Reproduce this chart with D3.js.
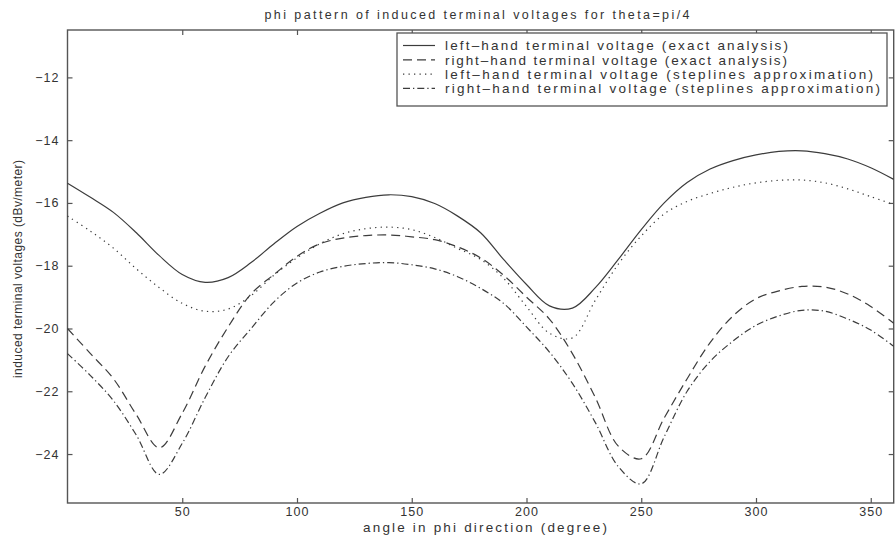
<!DOCTYPE html>
<meta charset="utf-8">
<head>
    <title>phi pattern of induced terminal voltages</title>
</head>
<script src="https://d3js.org/d3.v7.min.js"></script>

<style>
    body { margin: 0; background: #fff; }
    text {
        font-family: "Liberation Sans", Arial, sans-serif;
        fill: #333;
    }
    .frame {
        stroke: #555;
        stroke-width: 1.4px;
        fill: none;
    }
    .axis path { stroke: none; }
    .axis line { stroke: #555; stroke-width: 1.2px; }
    .axis text { font-size: 12.5px; letter-spacing: 1px; fill: #333; }
    .curve {
        fill: none;
        stroke: #3c3c3c;
        stroke-width: 1.2px;
    }
</style>
<div id="viz"></div>
<script>

// angle in phi direction (degree), sampled every 10 degrees
var angles = [0,10,20,30,40,50,60,70,80,90,100,110,120,130,140,150,160,170,180,
              190,200,210,220,230,240,250,260,270,280,290,300,310,320,330,340,350,360];

// left-hand terminal voltage (exact analysis)
var leftExact = [-15.37,-15.82,-16.3,-16.95,-17.68,-18.28,-18.53,-18.38,-17.9,-17.3,
                 -16.75,-16.33,-16.0,-15.82,-15.74,-15.8,-16.02,-16.42,-16.95,
                 -17.8,-18.6,-19.28,-19.35,-18.7,-17.8,-16.85,-16.0,-15.35,-14.92,
                 -14.65,-14.47,-14.36,-14.34,-14.43,-14.6,-14.88,-15.25];

// right-hand terminal voltage (exact analysis)
var rightExact = [-20.0,-20.8,-21.6,-22.75,-23.8,-22.7,-21.2,-19.95,-18.9,-18.28,
                  -17.7,-17.3,-17.12,-17.04,-17.02,-17.08,-17.17,-17.4,-17.75,
                  -18.3,-19.0,-19.7,-20.8,-22.2,-23.75,-24.15,-22.85,-21.6,-20.45,
                  -19.6,-19.05,-18.8,-18.66,-18.68,-18.9,-19.3,-19.83];

// left-hand terminal voltage (steplines approximation)
var leftStep = [-16.42,-16.9,-17.44,-18.1,-18.7,-19.2,-19.45,-19.38,-18.95,-18.3,
                -17.75,-17.3,-16.98,-16.82,-16.77,-16.85,-17.1,-17.45,-17.8,
                -18.4,-19.3,-20.15,-20.3,-19.1,-17.95,-17.05,-16.35,-15.95,-15.7,
                -15.5,-15.36,-15.28,-15.27,-15.36,-15.55,-15.8,-16.05];

// right-hand terminal voltage (steplines approximation)
var rightStep = [-20.8,-21.5,-22.3,-23.4,-24.65,-23.66,-22.2,-20.9,-20.0,-19.15,
                 -18.55,-18.2,-18.02,-17.93,-17.9,-17.97,-18.1,-18.35,-18.72,
                 -19.2,-19.95,-20.75,-21.75,-23.0,-24.4,-24.95,-23.45,-22.0,-21.05,
                 -20.4,-19.9,-19.6,-19.42,-19.45,-19.7,-20.05,-20.57];

var seriesNames = ['left\u2013hand terminal voltage (exact analysis)',
                   'right\u2013hand terminal voltage (exact analysis)',
                   'left\u2013hand terminal voltage (steplines approximation)',
                   'right\u2013hand terminal voltage (steplines approximation)'];
var seriesValues = [leftExact, rightExact, leftStep, rightStep];
var seriesDash = ['none', '9,5', '1.3,4.2', '7,3,1.3,3'];

var xTicks = [50,100,150,200,250,300,350];
var yTicks = [-24,-22,-20,-18,-16,-14,-12];

var W = 895, H = 540;
var plot = {left: 67.5, right: 893.7, top: 30, bottom: 503};

var root = d3.select('#viz')
    .append('svg')
        .attr('width', W)
        .attr('height', H);

root.append('rect')
    .attr('width', W).attr('height', H)
    .attr('fill', '#fff');

var x = d3.scaleLinear()
    .domain([0, 360])
    .range([plot.left, plot.right]);

var y = d3.scaleLinear()
    .domain([-25.56, -10.49])
    .range([plot.bottom, plot.top]);

// frame
root.append('rect')
    .attr('class', 'frame')
    .attr('x', plot.left)
    .attr('y', plot.top)
    .attr('width', plot.right - plot.left)
    .attr('height', plot.bottom - plot.top);

// axes, matlab style inward ticks
root.append('g')
    .attr('class', 'axis')
    .attr('transform', 'translate(0,' + plot.bottom + ')')
    .call(d3.axisBottom(x).tickValues(xTicks).tickSizeInner(-5).tickSizeOuter(0).tickPadding(4));

root.append('g')
    .attr('class', 'axis')
    .attr('transform', 'translate(0,' + plot.top + ')')
    .call(d3.axisTop(x).tickValues(xTicks).tickSizeInner(-5).tickSizeOuter(0).tickFormat(''));

root.append('g')
    .attr('class', 'axis')
    .attr('transform', 'translate(' + plot.left + ',0)')
    .call(d3.axisLeft(y).tickValues(yTicks).tickSizeInner(-5).tickSizeOuter(0).tickPadding(8));

root.append('g')
    .attr('class', 'axis')
    .attr('transform', 'translate(' + plot.right + ',0)')
    .call(d3.axisRight(y).tickValues(yTicks).tickSizeInner(-5).tickSizeOuter(0).tickFormat(''));

// curves
var line = d3.line()
    .x(function(d, i) { return x(angles[i]); })
    .y(function(d) { return y(d); })
    .curve(d3.curveCatmullRom.alpha(0.5));

root.append('g')
    .selectAll('path')
    .data(seriesValues)
    .enter()
    .append('path')
    .attr('class', 'curve')
    .attr('stroke-dasharray', function(d, i) { return seriesDash[i]; })
    .attr('d', line);

// legend
var legend = root.append('g')
    .attr('transform', 'translate(397,33)');

legend.append('rect')
    .attr('width', 490)
    .attr('height', 73)
    .attr('fill', '#fff')
    .attr('stroke', '#555')
    .attr('stroke-width', 1.3);

var legendLen = [343, 342, 428, 435];
var rows = legend.selectAll('g.row')
    .data(seriesNames)
    .enter()
    .append('g')
    .attr('class', 'row')
    .attr('transform', function(d, i) { return 'translate(0,' + (12.5 + i * 14.3) + ')'; });

rows.append('line')
    .attr('class', 'curve')
    .attr('x1', 6).attr('x2', 38)
    .attr('y1', 0).attr('y2', 0)
    .attr('stroke-dasharray', function(d, i) { return seriesDash[i]; });

rows.append('text')
    .attr('x', 48)
    .attr('dy', '0.35em')
    .attr('textLength', function(d, i) { return legendLen[i]; })
    .attr('lengthAdjust', 'spacing')
    .style('font-size', '13.5px')
    .text(function(d) { return d; });

// title and axis labels
root.append('text')
    .attr('x', 477)
    .attr('y', 19)
    .attr('text-anchor', 'middle')
    .attr('textLength', 425)
    .attr('lengthAdjust', 'spacing')
    .style('font-size', '12.5px')
    .text('phi pattern of induced terminal voltages for theta=pi/4');

root.append('text')
    .attr('x', 485)
    .attr('y', 532)
    .attr('text-anchor', 'middle')
    .attr('textLength', 244)
    .attr('lengthAdjust', 'spacing')
    .style('font-size', '13.5px')
    .text('angle in phi direction (degree)');

root.append('text')
    .attr('transform', 'translate(22,269)rotate(-90)')
    .attr('text-anchor', 'middle')
    .attr('textLength', 218)
    .attr('lengthAdjust', 'spacing')
    .style('font-size', '12px')
    .text('induced terminal voltages (dBv/meter)');

</script>
